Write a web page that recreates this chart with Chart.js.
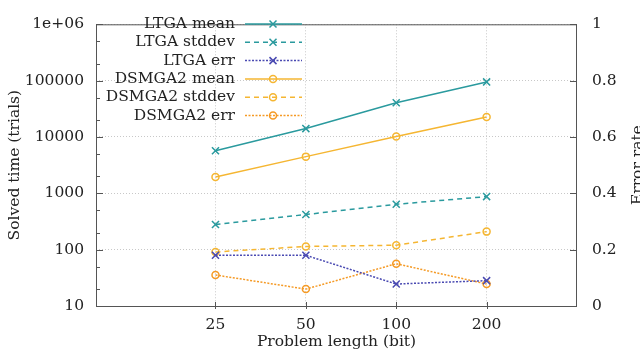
<!DOCTYPE html>
<html>
<head>
<meta charset="utf-8">
<script src="https://cdn.jsdelivr.net/npm/chart.js@4"></script>
<style>
  html, body { margin: 0; padding: 0; background: #fff; }
  canvas { display: block; }
</style>
</head>
<body>
<canvas id="chart" width="640" height="356"></canvas>
<script>
// problem lengths (bit)
const lengths = [25, 50, 100, 200];

// solved time (trials), left log axis
const ltgaMean = [5700, 14100, 40500, 95000];
const ltgaStd = [280, 420, 640, 875];
const dsmMean = [1950, 4480, 10200, 22700];
const dsmStd = [91, 114, 120, 209];

// error rate, right axis
const ltgaErr = [0.18, 0.18, 0.078, 0.09];
const dsmErr = [0.11, 0.06, 0.15, 0.078];

const yTicks = [10, 100, 1000, 10000, 100000, 1000000];
const y2Ticks = [0, 0.2, 0.4, 0.6, 0.8, 1];

const TEAL = "#2a9a9e";
const BLUE = "#4a4ab2";
const YELLOW = "#f5b632";
const ORANGE = "#f59a25";
const FONT = "DejaVu Serif";
const FSIZE = 15.5;
const TXT = "#222";

const pts = arr => arr.map((v, i) => ({ x: lengths[i], y: v }));

const series = [
  { label: "LTGA mean", data: ltgaMean, color: TEAL, dash: [], marker: "crossRot", axis: "y" },
  { label: "LTGA stddev", data: ltgaStd, color: TEAL, dash: [5, 4], marker: "crossRot", axis: "y" },
  { label: "LTGA err", data: ltgaErr, color: BLUE, dash: [2, 1.5], marker: "crossRot", axis: "y2" },
  { label: "DSMGA2 mean", data: dsmMean, color: YELLOW, dash: [], marker: "circle", axis: "y" },
  { label: "DSMGA2 stddev", data: dsmStd, color: YELLOW, dash: [5, 4], marker: "circle", axis: "y" },
  { label: "DSMGA2 err", data: dsmErr, color: ORANGE, dash: [2, 1.5], marker: "circle", axis: "y2" }
];

function drawMarker(ctx, type, x, y, color) {
  ctx.save();
  ctx.strokeStyle = color;
  ctx.lineWidth = 1.5;
  ctx.setLineDash([]);
  ctx.beginPath();
  if (type === "circle") {
    ctx.arc(x, y, 3.5, 0, Math.PI * 2);
  } else {
    ctx.moveTo(x - 3.5, y - 3.5); ctx.lineTo(x + 3.5, y + 3.5);
    ctx.moveTo(x - 3.5, y + 3.5); ctx.lineTo(x + 3.5, y - 3.5);
  }
  ctx.stroke();
  ctx.restore();
}

const framePlugin = {
  id: "frame",
  afterDraw(chart) {
    const { ctx, chartArea: a, scales } = chart;
    ctx.save();
    // box
    ctx.strokeStyle = "#555";
    ctx.lineWidth = 1;
    ctx.setLineDash([]);
    ctx.strokeRect(a.left + 0.5, a.top + 0.5, a.right - a.left - 1, a.bottom - a.top);

    // left ticks (major + minor 2,5)
    ctx.beginPath();
    yTicks.forEach((v, i) => {
      const py = Math.round(scales.y.getPixelForValue(v)) + 0.5;
      ctx.moveTo(a.left, py); ctx.lineTo(a.left + 7, py);
      if (i < yTicks.length - 1) {
        [2, 5].forEach(m => {
          const my = Math.round(scales.y.getPixelForValue(v * m)) + 0.5;
          ctx.moveTo(a.left, my); ctx.lineTo(a.left + 4, my);
        });
      }
    });
    // right ticks
    y2Ticks.forEach(v => {
      const py = Math.round(scales.y2.getPixelForValue(v)) + 0.5;
      ctx.moveTo(a.right, py); ctx.lineTo(a.right - 7, py);
    });
    // bottom ticks
    lengths.forEach(v => {
      const px = Math.round(scales.x.getPixelForValue(v)) + 0.5;
      ctx.moveTo(px, a.bottom + 3); ctx.lineTo(px, a.bottom - 4);
    });
    ctx.stroke();

    // axis titles
    ctx.fillStyle = TXT;
    ctx.font = FSIZE + "px '" + FONT + "'";
    ctx.textAlign = "center";
    ctx.textBaseline = "middle";
    const cy = (a.top + a.bottom) / 2;
    ctx.save();
    ctx.translate(15, cy);
    ctx.rotate(-Math.PI / 2);
    ctx.fillText("Solved time (trials)", 0, 0);
    ctx.restore();
    ctx.save();
    ctx.translate(638, cy);
    ctx.rotate(-Math.PI / 2);
    ctx.fillText("Error rate", 0, 0);
    ctx.restore();
    ctx.fillText("Problem length (bit)", (a.left + a.right) / 2, 342);

    // legend
    series.forEach((s, i) => {
      const ly = 24 + i * 18.3;
      ctx.fillStyle = TXT;
      ctx.textAlign = "right";
      ctx.fillText(s.label, 235, ly);
      ctx.strokeStyle = s.color;
      ctx.lineWidth = 1.5;
      ctx.setLineDash(s.dash);
      ctx.beginPath();
      ctx.moveTo(245, ly); ctx.lineTo(302, ly);
      ctx.stroke();
      drawMarker(ctx, s.marker, 273, ly, s.color);
    });
    ctx.restore();
  }
};

const tickFont = { family: FONT, size: FSIZE };

new Chart(document.getElementById("chart"), {
  type: "line",
  data: {
    datasets: series.map(s => ({
      label: s.label,
      data: pts(s.data),
      yAxisID: s.axis,
      borderColor: s.color,
      borderWidth: 1.5,
      borderDash: s.dash,
      pointStyle: s.marker,
      pointRadius: s.marker === "circle" ? 3.5 : 5,
      pointBorderWidth: 1.5,
      pointBorderColor: s.color,
      pointBackgroundColor: "rgba(0,0,0,0)",
      fill: false,
      tension: 0
    }))
  },
  options: {
    responsive: false,
    animation: false,
    layout: { padding: { top: 8 } },
    plugins: {
      legend: { display: false },
      tooltip: { enabled: false }
    },
    scales: {
      x: {
        type: "logarithmic",
        min: 10,
        max: 400,
        afterBuildTicks: s => { s.ticks = lengths.map(v => ({ value: v })); },
        afterFit: s => { s.height = 50; },
        ticks: { font: tickFont, color: TXT, padding: 10, maxRotation: 0, callback: v => String(v) },
        grid: { color: "#c8c8c8", drawTicks: false },
        border: { display: false, dash: [1, 2] }
      },
      y: {
        type: "logarithmic",
        position: "left",
        min: 10,
        max: 1000000,
        afterBuildTicks: s => { s.ticks = yTicks.map(v => ({ value: v })); },
        afterFit: s => { s.width = 96; },
        ticks: {
          font: tickFont, color: TXT, padding: 12,
          callback: v => (v === 1000000 ? "1e+06" : String(v))
        },
        grid: { color: "#c8c8c8", drawTicks: false },
        border: { display: false, dash: [1, 2] }
      },
      y2: {
        type: "linear",
        position: "right",
        min: 0,
        max: 1,
        afterBuildTicks: s => { s.ticks = y2Ticks.map(v => ({ value: v })); },
        afterFit: s => { s.width = 63; },
        ticks: {
          font: tickFont, color: TXT, padding: 15,
          callback: v => (v === 0 || v === 1 ? String(v) : v.toFixed(1))
        },
        grid: { display: false, drawTicks: false },
        border: { display: false }
      }
    }
  },
  plugins: [framePlugin]
});
</script>
</body>
</html>
